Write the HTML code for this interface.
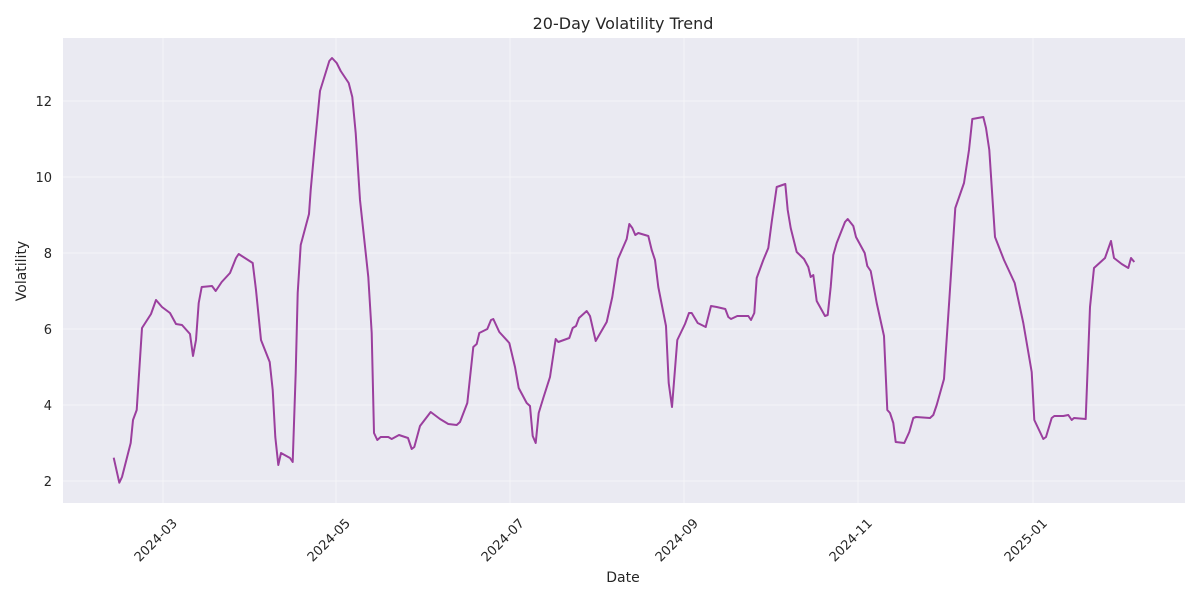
<!DOCTYPE html>
<html><head><meta charset="utf-8"><style>
body{margin:0;background:#fff;}
svg text{font-family:"DejaVu Sans","Liberation Sans",sans-serif;fill:#262626;}
</style></head><body>
<svg width="1200" height="600" xmlns="http://www.w3.org/2000/svg">
<rect x="0" y="0" width="1200" height="600" fill="#fff"/>
<rect x="63" y="38" width="1122" height="465" fill="#eaeaf2"/>
<g stroke="#f4f4f8" stroke-width="1">
<line x1="63" x2="1185" y1="481" y2="481"/><line x1="63" x2="1185" y1="405" y2="405"/>
<line x1="63" x2="1185" y1="329" y2="329"/><line x1="63" x2="1185" y1="253" y2="253"/>
<line x1="63" x2="1185" y1="177" y2="177"/><line x1="63" x2="1185" y1="101" y2="101"/>
<line x1="163" x2="163" y1="38" y2="503"/><line x1="336" x2="336" y1="38" y2="503"/>
<line x1="510" x2="510" y1="38" y2="503"/><line x1="684" x2="684" y1="38" y2="503"/>
<line x1="858" x2="858" y1="38" y2="503"/><line x1="1033" x2="1033" y1="38" y2="503"/>
</g>
<polyline fill="none" stroke="#9b3f9e" stroke-width="2" stroke-linejoin="round" points="
113.7,457.7 119.3,482.7 122,477 130.7,443 133,420 136.7,410 142,328 151,314 156,300 162,307 170,313 176,324 182,325 190,334 193,356 196,340 198.7,303 201.7,287 212,286 215.7,291 221.7,282 230,273 236,258 238.7,254 252.7,263 256,290 261,340 269.7,362 272.7,390 275.3,437 278.3,465 281,453 290,458 292.7,462 295.7,373 297.7,293 300.7,245 309,214 310.7,190 315,143 320,91 329.3,61 332,58 336.7,63 340.7,71 348.7,83 352.3,97 355.7,133 360,200 368.3,277 371.7,333 374,433 377.3,440 380.7,437 388.3,437 391.7,439 399,435 408,438 411.7,449 414.3,447 420,426 430.7,412 440,419 448.3,424 456.7,425 460,422 467.3,403 473.3,347 476.7,344 479.3,333 487.3,329 491,320 493.3,319 499.3,332 509.3,343 515,367 518.7,388 526.7,403 530,406 532.7,436 535.7,443 538.7,413 543.3,398 550,377 555.7,339 558.3,342 569.3,338 572.7,328 576,326 579,318 586.7,311 590,316 595.7,341 606.7,322 612.3,297 618,259 626.7,239 629.3,224 632.3,228 635.3,235 638.3,233 648.3,236 651.7,250 655,260 658.3,287 666,326 668.7,383 672,407 677.3,340 685,324 689,313 691.7,313 697.7,323 705.7,327 711,306 716.7,307 725.3,309 728.3,317 731,319 737.3,316 748.3,316 751,320 754.3,313 756.7,278 763.3,260 768.3,248 771.7,222 776.7,187 785.3,184 787.7,210 790.7,228 796.7,252 804,259 808.3,267 810.7,277 813.3,275 816.7,301 825,316 827.7,315 830.7,287 833.3,255 836.7,243 845,222 847.7,219 853.3,226 856,237 864.7,253 867.3,266 870.7,271 876.7,303 884,336 887.3,410 890,413 893.3,423 895.7,442 904.3,443 909.3,432 913.3,418 916,417 930,418 933.3,415 936.7,405 944,379 949.3,300 955.3,208 964,183 969,150 972.3,119 983.3,117 986,128 989.3,150 995,237 1004,260 1014.7,283 1023.3,323 1031.7,372 1034.3,420 1043.3,439 1046,437 1051.7,418 1054.3,416 1063.3,416 1068.3,415 1071.7,420 1074,418 1085.7,419 1090,307 1094,268 1105,258 1111,241 1114,258 1121.7,264 1128.3,268 1131,258 1134.3,262"/>
<g font-size="13" text-anchor="end">
<text x="52" y="486">2</text><text x="52" y="410">4</text><text x="52" y="334">6</text>
<text x="52" y="258">8</text><text x="52" y="182">10</text><text x="52" y="106">12</text>
</g>
<g font-size="13" text-anchor="end">
<text transform="translate(178,524) rotate(-45)">2024-03</text>
<text transform="translate(351,524) rotate(-45)">2024-05</text>
<text transform="translate(525,524) rotate(-45)">2024-07</text>
<text transform="translate(699,524) rotate(-45)">2024-09</text>
<text transform="translate(873,524) rotate(-45)">2024-11</text>
<text transform="translate(1048,524) rotate(-45)">2025-01</text>
</g>
<text x="623" y="582" font-size="14" text-anchor="middle">Date</text>
<text transform="translate(26,271) rotate(-90)" font-size="14" text-anchor="middle">Volatility</text>
<text x="623" y="29" font-size="16" text-anchor="middle">20-Day Volatility Trend</text>
</svg>
</body></html>
